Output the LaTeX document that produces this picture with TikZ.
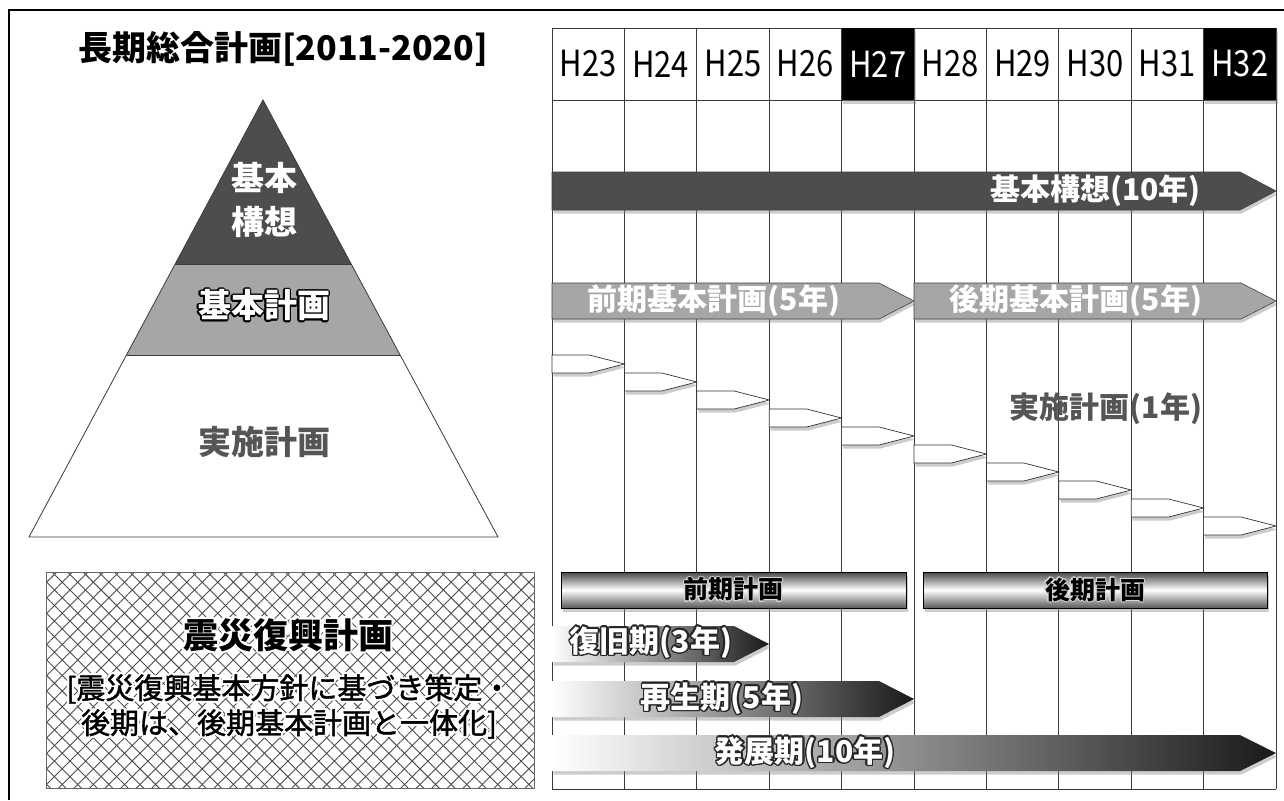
\documentclass[tikz,border=0pt]{standalone}
\usepackage{fontspec}
\setmainfont{Noto Sans CJK JP}
\newfontfamily\jpmed{Noto Sans CJK JP}[FakeBold=1.5]
\usepackage{graphicx}
\usepackage{contour}
\usetikzlibrary{shadows,patterns.meta}
\definecolor{dk}{HTML}{4D4D4D}
\definecolor{md}{HTML}{A6A6A6}
\definecolor{gridc}{HTML}{3A3A3A}
\definecolor{txtg}{HTML}{555555}
\newcommand\arrp[5]{({#1},{#3}) -- ({#2-#5},{#3}) -- ({#2},{(#3+#4)/2}) -- ({#2-#5},{#4}) -- ({#1},{#4}) -- cycle}
\newcommand\cnd[1]{\scalebox{0.86}[1]{#1}}
\tikzset{
  fs/.style={font=\fontsize{#1}{#1}\selectfont},
  bfs/.style={font=\fontsize{#1}{#1}\selectfont\bfseries},
  mfs/.style={font=\fontsize{#1}{#1}\selectfont\jpmed},
  gridline/.style={draw=gridc, line width=0.8pt},
  shad/.style={drop shadow={opacity=0.4, shadow xshift=1.5pt, shadow yshift=-3.5pt}},
  arrbox/.style={draw=black!75, line width=0.6pt, shad},
  hdr/.style={fs=36, inner sep=0pt},
  metal/.style={top color=black!72, bottom color=black!65, middle color=white, shad},
}
\begin{document}
\begin{tikzpicture}[x=1pt,y=-1pt]
\useasboundingbox (0,0) rectangle (1284,800);
\fill[white] (0,0) rectangle (1284,800);
% outer frame
\draw[line width=1.4pt] (9,800) -- (9,10) -- (1284,10);
% title
\node[bfs=34, inner sep=0pt] (title) at (283,49) {長期総合計画[2011-2020]};
% pyramid
\fill[dk] (263,100) -- (351.2,264) -- (175.2,264) -- cycle;
\fill[md] (175.2,264) -- (351.2,264) -- (400.1,355) -- (126.5,355) -- cycle;
\draw[gridc, line width=0.8pt, line join=miter] (263,100) -- (498,537) -- (29,537) -- cycle;
\draw[gridc, line width=0.8pt] (175.2,264) -- (351.2,264);
\draw[gridc, line width=0.8pt] (126.5,355) -- (400.1,355);
\node[bfs=33, text=white, align=center, inner sep=0pt] (p1a) at (264,178) {基本};
\node[bfs=33, text=white, align=center, inner sep=0pt] (p1b) at (264,222) {構想};
\contourlength{1.3pt}
\node[bfs=33, text=white, inner sep=0pt] (p2) at (264,306) {\contour{black}{基本計画}};
\node[bfs=33, text=txtg, inner sep=0pt] (p3) at (264,442) {実施計画};
% hatched box
\path[pattern={Lines[angle=45,distance=11pt,line width=0.9pt]}, pattern color=black!70] (46,572) rectangle (534,788);
\path[pattern={Lines[angle=-45,distance=11pt,line width=0.9pt]}, pattern color=black!70] (46,572) rectangle (534,788);
\draw[black!60, line width=0.9pt] (46,572) rectangle (534,788);
\contourlength{2pt}
\node[bfs=35, inner sep=0pt] (sh1) at (288,636) {\contour{white}{震災復興計画}};
\node[mfs=29, inner sep=0pt] (sh2) at (289,690) {\contour{white}{[震災復興基本方針に基づき策定・}};
\node[mfs=29, inner sep=0pt] (sh3) at (289,725) {\contour{white}{後期は、後期基本計画と一体化]}};
% grid
\foreach \i in {0,...,10} \draw[gridline] ({552+72.4*\i},28) -- ({552+72.4*\i},789);
\draw[gridline] (552,28) -- (1276,28);
\draw[gridline] (552,100) -- (1276,100);
\draw[gridline] (552,789) -- (1276,789);
\fill[black, shad] (841.6,28) rectangle (914,100);
\fill[black, shad] (1203.6,28) rectangle (1276,100);
\foreach \i/\lab in {0/H23,1/H24,2/H25,3/H26,5/H28,6/H29,7/H30,8/H31}
  \node[hdr] (h\i) at ({552+72.4*\i+36.2},64) {\cnd{\lab}};
\node[hdr, text=white] (h4) at (877.8,64) {\cnd{H27}};
\node[hdr, text=white] (h9) at (1239.8,64) {\cnd{H32}};
% long arrows
\path[arrbox, fill=dk] \arrp{552}{1276}{172}{210}{36};
\node[bfs=30, text=white, anchor=east, inner sep=0pt] (kk) at (1201,191) {基本構想(10年)};
\path[arrbox, fill=md] \arrp{552}{914}{283}{319}{35};
\path[arrbox, fill=md] \arrp{914}{1276}{283}{319}{35};
\node[bfs=30, text=white, inner sep=0pt] (zk) at (714,301) {前期基本計画(5年)};
\node[bfs=30, text=white, inner sep=0pt] (kk2) at (1076,301) {後期基本計画(5年)};
% yearly arrows
\foreach \i in {0,...,9}
  \path[draw=black!80, line width=0.7pt, fill=white, shad] \arrp{552+72.4*\i}{552+72.4*(\i+1)}{355+18*\i}{373+18*\i}{35};
\node[bfs=30, text=txtg, inner sep=0pt] (jk) at (1106,409) {実施計画(1年)};
% phase bars
\path[metal] (561,572) rectangle (906,608);
\draw[black, line width=0.8pt] (561,572) rectangle (906,608);
\path[metal] (923,572) rectangle (1267,608);
\draw[black, line width=0.8pt] (923,572) rectangle (1267,608);
\contourlength{1pt}
\node[bfs=25, inner sep=0pt] (zb) at (733,590) {\contour{white!85!black}{前期計画}};
\node[bfs=25, inner sep=0pt] (kb) at (1095,590) {\contour{white!85!black}{後期計画}};
% gradient arrows
\path[left color=white, right color=black!90, shad] \arrp{552}{769}{626}{662}{35};
\path[left color=white, right color=black!90, shad] \arrp{552}{914}{681}{717}{35};
\path[left color=white, right color=black!90, shad] \arrp{552}{1276}{735}{771}{36};
\contourlength{1.5pt}
\node[bfs=30, text=white, inner sep=0pt] (fk) at (651,643) {\contour{black!85}{復旧期(3年)}};
\node[bfs=30, text=white, inner sep=0pt] (sk) at (722,699) {\contour{black!85}{再生期(5年)}};
\node[bfs=30, text=white, inner sep=0pt] (hk) at (805,753) {\contour{black!85}{発展期(10年)}};
\end{tikzpicture}
\end{document}
